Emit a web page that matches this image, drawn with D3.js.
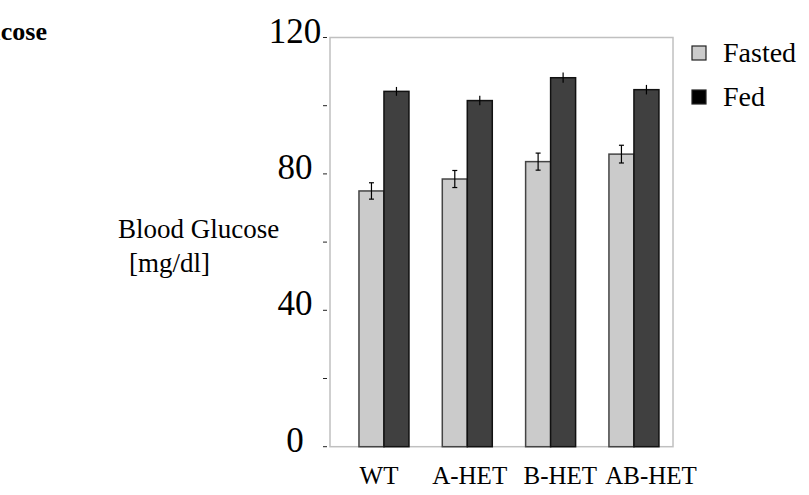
<!DOCTYPE html>
<html>
<head>
<meta charset="utf-8">
<script src="https://cdn.jsdelivr.net/npm/d3@7"></script>
<style>
  body { margin: 0; background: #fff; }
  svg { display: block; }
  svg text { font-family: "Liberation Serif", "Times New Roman", serif; }
</style>
</head>
<body>
<div id="chart"></div>
<script>
// data
var categories = ['WT', 'A-HET', 'B-HET', 'AB-HET'];
var series = ['Fasted', 'Fed'];
var fastedValues = [75.0, 78.5, 83.6, 85.8];
var fastedErrors = [2.4, 2.5, 2.5, 2.6];
var fedValues = [104.2, 101.5, 108.2, 104.7];
var fedErrors = [1.3, 1.4, 1.5, 1.4];
var yTicks = [0, 20, 40, 60, 80, 100, 120];
var yLabels = [0, 40, 80, 120];

var width = 809, height = 495;
var box = { left: 330, right: 673, top: 37.5, bottom: 446.7 };
var serif = '"Liberation Serif", "Times New Roman", serif';

var svg = d3.select('#chart').append('svg')
    .attr('width', width)
    .attr('height', height)
    .attr('font-family', serif);

var y = d3.scaleLinear()
    .domain([0, 120])
    .range([box.bottom, box.top]);

var x = d3.scaleBand()
    .domain(categories)
    .range([342.3, 675.6])
    .paddingInner(0.4)
    .paddingOuter(0.2);

var xSub = d3.scaleBand()
    .domain(series)
    .range([0, x.bandwidth()]);

var xLabel = d3.scalePoint()
    .domain(categories)
    .range([379, 651]);

var fills = { Fasted: '#cbcbcb', Fed: '#404040' };
var strokes = { Fasted: '#444', Fed: '#111' };

// clipped title on the far left
svg.append('text')
    .attr('x', 47)
    .attr('y', 40)
    .attr('text-anchor', 'end')
    .attr('font-family', serif)
    .attr('font-weight', 'bold')
    .attr('font-size', 26)
    .text('Blood Glucose');

// y axis title
svg.append('text')
    .attr('x', 118)
    .attr('y', 238)
    .attr('font-family', serif)
    .attr('font-size', 27)
    .text('Blood Glucose');
svg.append('text')
    .attr('x', 129)
    .attr('y', 272)
    .attr('font-family', serif)
    .attr('font-size', 27)
    .text('[mg/dl]');

// plot frame
svg.append('rect')
    .attr('x', box.left)
    .attr('y', box.top)
    .attr('width', box.right - box.left)
    .attr('height', box.bottom - box.top)
    .attr('fill', 'none')
    .attr('stroke', '#c0c0c0')
    .attr('stroke-width', 1.5);

// small tick dashes
svg.selectAll('.ytick')
    .data(yTicks)
    .enter().append('line')
    .attr('class', 'ytick')
    .attr('x1', 323)
    .attr('x2', 327)
    .attr('y1', function (d) { return y(d); })
    .attr('y2', function (d) { return y(d); })
    .attr('stroke', '#222')
    .attr('stroke-width', 1);

svg.selectAll('.ylabel')
    .data(yLabels)
    .enter().append('text')
    .attr('class', 'ylabel')
    .attr('x', 295)
    .attr('y', function (d) { return y(d) + 5; })
    .attr('text-anchor', 'middle')
    .attr('font-family', serif)
    .attr('font-size', 35)
    .text(function (d) { return d; });

var rows = categories.map(function (c, i) {
    return [
        { cat: c, s: 'Fasted', v: fastedValues[i], e: fastedErrors[i] },
        { cat: c, s: 'Fed', v: fedValues[i], e: fedErrors[i] }
    ];
});
var flat = [].concat.apply([], rows);

var g = svg.append('g');

g.selectAll('.bar')
    .data(flat)
    .enter().append('rect')
    .attr('class', 'bar')
    .attr('x', function (d) { return x(d.cat) + xSub(d.s); })
    .attr('y', function (d) { return y(d.v); })
    .attr('width', xSub.bandwidth())
    .attr('height', function (d) { return y(0) - y(d.v); })
    .attr('fill', function (d) { return fills[d.s]; })
    .attr('stroke', function (d) { return strokes[d.s]; })
    .attr('stroke-width', 1.5);

// error bars
g.selectAll('.err')
    .data(flat)
    .enter().append('line')
    .attr('class', 'err')
    .attr('x1', function (d) { return x(d.cat) + xSub(d.s) + xSub.bandwidth() / 2; })
    .attr('x2', function (d) { return x(d.cat) + xSub(d.s) + xSub.bandwidth() / 2; })
    .attr('y1', function (d) { return y(d.v + d.e); })
    .attr('y2', function (d) { return y(d.v - d.e); })
    .attr('stroke', '#000')
    .attr('stroke-width', 1.2);

var capped = flat.filter(function (d) { return d.s === 'Fasted'; });
['hi', 'lo'].forEach(function (k) {
    g.selectAll('.cap-' + k)
        .data(capped)
        .enter().append('line')
        .attr('x1', function (d) { return x(d.cat) + xSub(d.s) + xSub.bandwidth() / 2 - 2.5; })
        .attr('x2', function (d) { return x(d.cat) + xSub(d.s) + xSub.bandwidth() / 2 + 2.5; })
        .attr('y1', function (d) { return y(k === 'hi' ? d.v + d.e : d.v - d.e); })
        .attr('y2', function (d) { return y(k === 'hi' ? d.v + d.e : d.v - d.e); })
        .attr('stroke', '#000')
        .attr('stroke-width', 1.2);
});

// category labels
svg.selectAll('.xlabel')
    .data(categories)
    .enter().append('text')
    .attr('class', 'xlabel')
    .attr('x', function (d) { return xLabel(d); })
    .attr('y', 484)
    .attr('text-anchor', 'middle')
    .attr('font-family', serif)
    .attr('font-size', 25)
    .text(function (d) { return d; });

// legend
var legend = svg.selectAll('.legend')
    .data(series)
    .enter().append('g')
    .attr('class', 'legend')
    .attr('transform', function (d, i) { return 'translate(692,' + (46 + i * 44) + ')'; });

legend.append('rect')
    .attr('width', 14)
    .attr('height', 14)
    .attr('fill', function (d) { return d === 'Fed' ? '#000' : fills[d]; })
    .attr('stroke', '#222')
    .attr('stroke-width', 1.2);

legend.append('text')
    .attr('x', 31)
    .attr('y', 16)
    .attr('font-family', serif)
    .attr('font-size', 28)
    .text(function (d) { return d; });
</script>
</body>
</html>
